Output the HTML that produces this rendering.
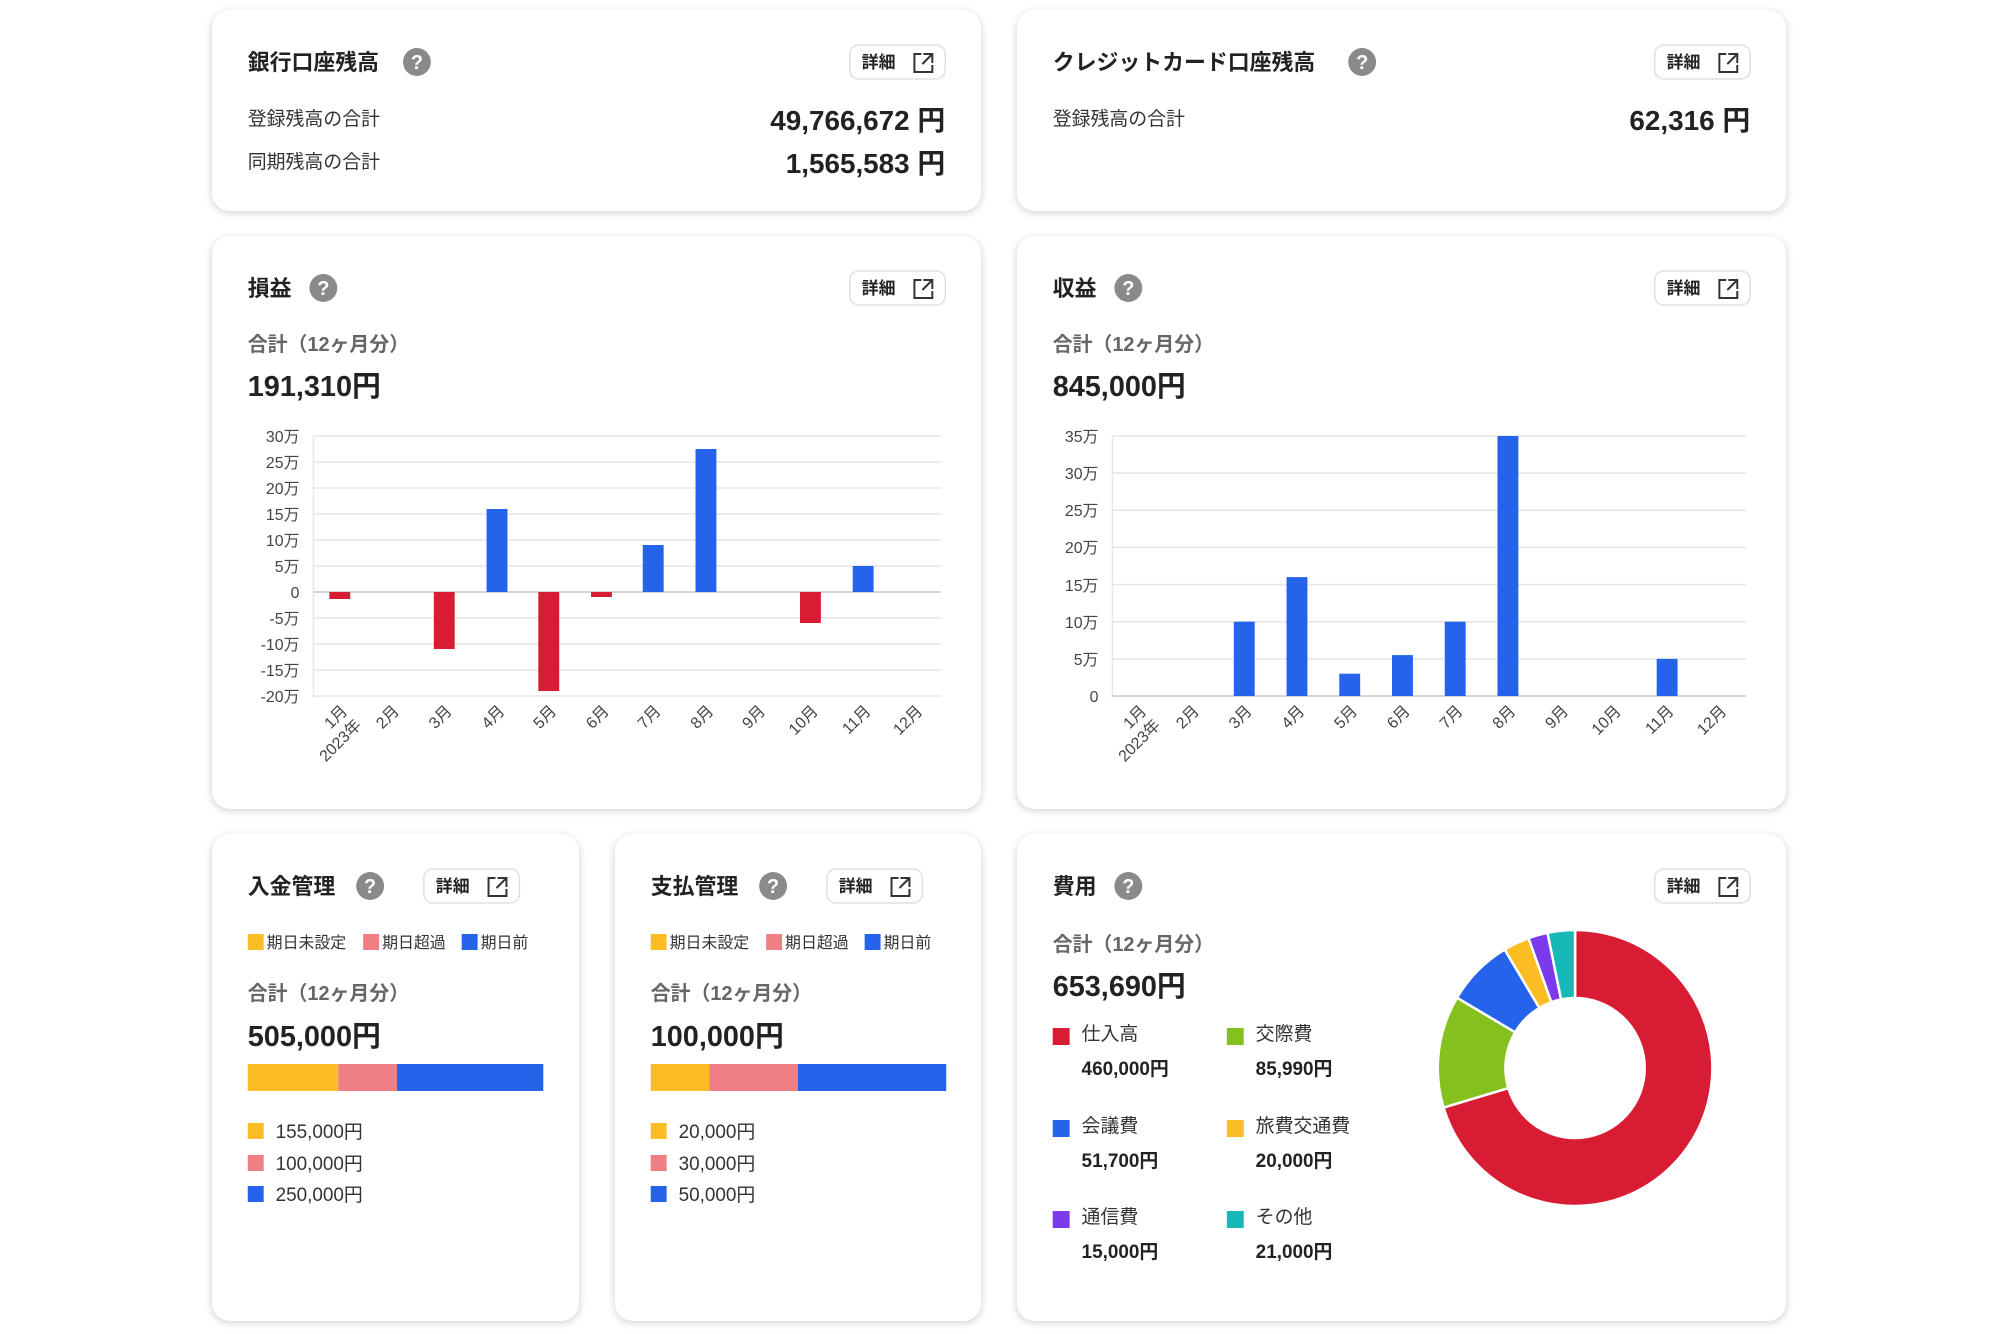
<!DOCTYPE html>
<html><head><meta charset="utf-8"><style>
html,body{margin:0;padding:0;width:2000px;height:1334px;background:#fff;overflow:hidden}
#w{position:absolute;left:0;top:0;width:2000px;height:1334px;transform:scaleX(0.995);transform-origin:0 0}
.c{position:absolute;background:#fff;border-radius:18px;box-shadow:0 2px 8px rgba(0,0,0,0.18)}
svg{position:absolute;left:0;top:0}
text{font-family:"Liberation Sans","Noto Sans CJK JP",sans-serif;fill:#222}
.t{font-size:22px;font-weight:bold}
.lb{font-size:19px;fill:#333}
.v{font-size:28px;font-weight:bold}
.g{font-size:20px;font-weight:bold;fill:#666}
.b{font-size:29px;font-weight:bold}
.ax{font-size:16px;fill:#444}
.sm{font-size:16px;fill:#333}
.li{font-size:19px;fill:#333}
.lv{font-size:19px;font-weight:bold}
</style></head><body><div id="w">
<div class="c" style="left:213px;top:10px;width:773px;height:201px"></div>
<div class="c" style="left:1022px;top:10px;width:773px;height:201px"></div>
<div class="c" style="left:213px;top:236px;width:773px;height:573px"></div>
<div class="c" style="left:1022px;top:236px;width:773px;height:573px"></div>
<div class="c" style="left:213px;top:834px;width:369px;height:487px"></div>
<div class="c" style="left:618px;top:834px;width:368px;height:487px"></div>
<div class="c" style="left:1022px;top:834px;width:773px;height:487px"></div>
<svg width="2000" height="1334" viewBox="0 0 2000 1334">
<defs>
<g id="q"><circle cx="0" cy="0" r="14" fill="#8a8a8a"/><text x="0" y="7" text-anchor="middle" style="font-size:20px;font-weight:bold;fill:#fff">?</text></g>
<g id="btn"><rect x="0" y="0" width="96" height="34" rx="9" fill="#fff" stroke="#e0e0e0" stroke-width="1.5"/><text x="12" y="23" style="font-size:17px;font-weight:bold">詳細</text><path d="M72 9 H65 V27 H83 V20 M74 9 H83 V18 M83 9 L73 19" fill="none" stroke="#333" stroke-width="2"/></g>
</defs>
<!-- card1 -->
<text x="249" y="70" class="t">銀行口座残高</text><use href="#q" x="419" y="62"/>
<use href="#btn" x="854" y="45"/>
<text x="249" y="125" class="lb">登録残高の合計</text>
<text x="950" y="130" class="v" text-anchor="end">49,766,672 円</text>
<text x="249" y="168" class="lb">同期残高の合計</text>
<text x="950" y="173" class="v" text-anchor="end">1,565,583 円</text>
<!-- card2 -->
<text x="1058" y="70" class="t">クレジットカード口座残高</text><use href="#q" x="1369" y="62"/>
<use href="#btn" x="1663" y="45"/>
<text x="1058" y="125" class="lb">登録残高の合計</text>
<text x="1759" y="130" class="v" text-anchor="end">62,316 円</text>
<!-- card3 -->
<text x="249" y="296" class="t">損益</text><use href="#q" x="325" y="288"/>
<use href="#btn" x="854" y="271"/>
<text x="249" y="351" class="g">合計（12ヶ月分）</text>
<text x="249" y="396" class="b">191,310円</text>
<g stroke="#e6e6e6" stroke-width="1.5">
<line x1="315" x2="946" y1="436" y2="436"/><line x1="315" x2="946" y1="462" y2="462"/><line x1="315" x2="946" y1="488" y2="488"/><line x1="315" x2="946" y1="514" y2="514"/><line x1="315" x2="946" y1="540" y2="540"/><line x1="315" x2="946" y1="566" y2="566"/><line x1="315" x2="946" y1="618" y2="618"/><line x1="315" x2="946" y1="644" y2="644"/><line x1="315" x2="946" y1="670" y2="670"/><line x1="315" x2="946" y1="696" y2="696"/><line x1="315" x2="315" y1="436" y2="698"/>
</g>
<line x1="315" x2="946" y1="592" y2="592" stroke="#c8c8c8" stroke-width="1.5"/>
<g>
<text x="301" y="442" class="ax" text-anchor="end">30万</text><text x="301" y="468" class="ax" text-anchor="end">25万</text><text x="301" y="494" class="ax" text-anchor="end">20万</text><text x="301" y="520" class="ax" text-anchor="end">15万</text><text x="301" y="546" class="ax" text-anchor="end">10万</text><text x="301" y="572" class="ax" text-anchor="end">5万</text><text x="301" y="598" class="ax" text-anchor="end">0</text><text x="301" y="624" class="ax" text-anchor="end">-5万</text><text x="301" y="650" class="ax" text-anchor="end">-10万</text><text x="301" y="676" class="ax" text-anchor="end">-15万</text><text x="301" y="702" class="ax" text-anchor="end">-20万</text>
</g>
<g fill="#d81c34">
<rect x="331" y="592" width="21" height="7"/><rect x="436" y="592" width="21" height="57"/><rect x="541" y="592" width="21" height="99"/><rect x="594" y="592" width="21" height="5"/><rect x="804" y="592" width="21" height="31"/>
</g>
<g fill="#2563eb">
<rect x="489" y="509" width="21" height="83"/><rect x="646" y="545" width="21" height="47"/><rect x="699" y="449" width="21" height="143"/><rect x="857" y="566" width="21" height="26"/>
</g>
<g text-anchor="end">
<text class="ax" text-anchor="end" transform="translate(350,712) rotate(-45)">1月</text>
<text class="ax" text-anchor="end" transform="translate(364,726) rotate(-45)">2023年</text>
<text class="ax" text-anchor="end" transform="translate(402,712) rotate(-45)">2月</text>
<text class="ax" text-anchor="end" transform="translate(455,712) rotate(-45)">3月</text>
<text class="ax" text-anchor="end" transform="translate(508,712) rotate(-45)">4月</text>
<text class="ax" text-anchor="end" transform="translate(560,712) rotate(-45)">5月</text>
<text class="ax" text-anchor="end" transform="translate(613,712) rotate(-45)">6月</text>
<text class="ax" text-anchor="end" transform="translate(665,712) rotate(-45)">7月</text>
<text class="ax" text-anchor="end" transform="translate(718,712) rotate(-45)">8月</text>
<text class="ax" text-anchor="end" transform="translate(770,712) rotate(-45)">9月</text>
<text class="ax" text-anchor="end" transform="translate(823,712) rotate(-45)">10月</text>
<text class="ax" text-anchor="end" transform="translate(876,712) rotate(-45)">11月</text>
<text class="ax" text-anchor="end" transform="translate(928,712) rotate(-45)">12月</text>
</g>
<!-- card4 -->
<text x="1058" y="296" class="t">収益</text><use href="#q" x="1134" y="288"/>
<use href="#btn" x="1663" y="271"/>
<text x="1058" y="351" class="g">合計（12ヶ月分）</text>
<text x="1058" y="396" class="b">845,000円</text>
<g stroke="#e6e6e6" stroke-width="1.5">
<line x1="1118" x2="1755" y1="436" y2="436"/><line x1="1118" x2="1755" y1="473.1" y2="473.1"/><line x1="1118" x2="1755" y1="510.3" y2="510.3"/><line x1="1118" x2="1755" y1="547.4" y2="547.4"/><line x1="1118" x2="1755" y1="584.6" y2="584.6"/><line x1="1118" x2="1755" y1="621.7" y2="621.7"/><line x1="1118" x2="1755" y1="658.9" y2="658.9"/><line x1="1118" x2="1118" y1="436" y2="698"/>
</g>
<line x1="1118" x2="1755" y1="696" y2="696" stroke="#c8c8c8" stroke-width="1.5"/>
<g>
<text x="1104" y="442" class="ax" text-anchor="end">35万</text><text x="1104" y="479" class="ax" text-anchor="end">30万</text><text x="1104" y="516" class="ax" text-anchor="end">25万</text><text x="1104" y="553" class="ax" text-anchor="end">20万</text><text x="1104" y="591" class="ax" text-anchor="end">15万</text><text x="1104" y="628" class="ax" text-anchor="end">10万</text><text x="1104" y="665" class="ax" text-anchor="end">5万</text><text x="1104" y="702" class="ax" text-anchor="end">0</text>
</g>
<g fill="#2563eb">
<rect x="1240" y="621.7" width="21" height="74.3"/><rect x="1293" y="577.1" width="21" height="118.9"/><rect x="1346" y="673.7" width="21" height="22.3"/><rect x="1399" y="655.1" width="21" height="40.9"/><rect x="1452" y="621.7" width="21" height="74.3"/><rect x="1505" y="436" width="21" height="260"/><rect x="1665" y="658.9" width="21" height="37.1"/>
</g>
<g>
<text class="ax" text-anchor="end" transform="translate(1153,712) rotate(-45)">1月</text>
<text class="ax" text-anchor="end" transform="translate(1167,726) rotate(-45)">2023年</text>
<text class="ax" text-anchor="end" transform="translate(1206,712) rotate(-45)">2月</text>
<text class="ax" text-anchor="end" transform="translate(1259,712) rotate(-45)">3月</text>
<text class="ax" text-anchor="end" transform="translate(1312,712) rotate(-45)">4月</text>
<text class="ax" text-anchor="end" transform="translate(1365,712) rotate(-45)">5月</text>
<text class="ax" text-anchor="end" transform="translate(1418,712) rotate(-45)">6月</text>
<text class="ax" text-anchor="end" transform="translate(1471,712) rotate(-45)">7月</text>
<text class="ax" text-anchor="end" transform="translate(1524,712) rotate(-45)">8月</text>
<text class="ax" text-anchor="end" transform="translate(1577,712) rotate(-45)">9月</text>
<text class="ax" text-anchor="end" transform="translate(1630,712) rotate(-45)">10月</text>
<text class="ax" text-anchor="end" transform="translate(1683,712) rotate(-45)">11月</text>
<text class="ax" text-anchor="end" transform="translate(1736,712) rotate(-45)">12月</text>
</g>
<!-- card5 -->
<text x="249" y="894" class="t">入金管理</text><use href="#q" x="372" y="886"/>
<use href="#btn" x="426" y="869"/>
<rect x="249" y="934" width="16" height="16" fill="#fbbd23"/><text x="268" y="948" class="sm">期日未設定</text>
<rect x="365" y="934" width="16" height="16" fill="#f07f85"/><text x="384" y="948" class="sm">期日超過</text>
<rect x="464" y="934" width="16" height="16" fill="#2563eb"/><text x="483" y="948" class="sm">期日前</text>
<text x="249" y="1000" class="g">合計（12ヶ月分）</text>
<text x="249" y="1046" class="b">505,000円</text>
<rect x="249" y="1064" width="91" height="27" fill="#fbbd23"/><rect x="340" y="1064" width="59" height="27" fill="#f07f85"/><rect x="399" y="1064" width="147" height="27" fill="#2563eb"/>
<rect x="249" y="1123" width="16" height="16" fill="#fbbd23"/><text x="277" y="1138" class="li">155,000円</text>
<rect x="249" y="1155" width="16" height="16" fill="#f07f85"/><text x="277" y="1170" class="li">100,000円</text>
<rect x="249" y="1186" width="16" height="16" fill="#2563eb"/><text x="277" y="1201" class="li">250,000円</text>
<!-- card6 -->
<text x="654" y="894" class="t">支払管理</text><use href="#q" x="777" y="886"/>
<use href="#btn" x="831" y="869"/>
<rect x="654" y="934" width="16" height="16" fill="#fbbd23"/><text x="673" y="948" class="sm">期日未設定</text>
<rect x="770" y="934" width="16" height="16" fill="#f07f85"/><text x="789" y="948" class="sm">期日超過</text>
<rect x="869" y="934" width="16" height="16" fill="#2563eb"/><text x="888" y="948" class="sm">期日前</text>
<text x="654" y="1000" class="g">合計（12ヶ月分）</text>
<text x="654" y="1046" class="b">100,000円</text>
<rect x="654" y="1064" width="59" height="27" fill="#fbbd23"/><rect x="713" y="1064" width="89" height="27" fill="#f07f85"/><rect x="802" y="1064" width="149" height="27" fill="#2563eb"/>
<rect x="654" y="1123" width="16" height="16" fill="#fbbd23"/><text x="682" y="1138" class="li">20,000円</text>
<rect x="654" y="1155" width="16" height="16" fill="#f07f85"/><text x="682" y="1170" class="li">30,000円</text>
<rect x="654" y="1186" width="16" height="16" fill="#2563eb"/><text x="682" y="1201" class="li">50,000円</text>
<!-- card7 -->
<text x="1058" y="894" class="t">費用</text><use href="#q" x="1134" y="886"/>
<use href="#btn" x="1663" y="869"/>
<text x="1058" y="951" class="g">合計（12ヶ月分）</text>
<text x="1058" y="996" class="b">653,690円</text>
<rect x="1058" y="1028" width="17" height="17" fill="#d81c34"/><text x="1087" y="1040" class="li">仕入高</text><text x="1087" y="1075" class="lv">460,000円</text>
<rect x="1233" y="1028" width="17" height="17" fill="#84c11f"/><text x="1262" y="1040" class="li">交際費</text><text x="1262" y="1075" class="lv">85,990円</text>
<rect x="1058" y="1120" width="17" height="17" fill="#2563eb"/><text x="1087" y="1132" class="li">会議費</text><text x="1087" y="1167" class="lv">51,700円</text>
<rect x="1233" y="1120" width="17" height="17" fill="#fbbd23"/><text x="1262" y="1132" class="li">旅費交通費</text><text x="1262" y="1167" class="lv">20,000円</text>
<rect x="1058" y="1211" width="17" height="17" fill="#7c3aed"/><text x="1087" y="1223" class="li">通信費</text><text x="1087" y="1258" class="lv">15,000円</text>
<rect x="1233" y="1211" width="17" height="17" fill="#17b8b8"/><text x="1262" y="1223" class="li">その他</text><text x="1262" y="1258" class="lv">21,000円</text>
<g stroke="#fff" stroke-width="2.5">
<path d="M1583,930 A138,138 0 1 1 1450.8,1107.6 L1515.9,1088.1 A70,70 0 1 0 1583,998 Z" fill="#d81c34"/>
<path d="M1450.8,1107.6 A138,138 0 0 1 1464.3,997.7 L1522.8,1032.3 A70,70 0 0 0 1515.9,1088.1 Z" fill="#84c11f"/>
<path d="M1464.3,997.7 A138,138 0 0 1 1512.2,949.5 L1547.1,1007.9 A70,70 0 0 0 1522.8,1032.3 Z" fill="#2563eb"/>
<path d="M1512.2,949.5 A138,138 0 0 1 1536.2,938.2 L1559.2,1002.2 A70,70 0 0 0 1547.1,1007.9 Z" fill="#fbbd23"/>
<path d="M1536.2,938.2 A138,138 0 0 1 1555.3,932.8 L1568.9,999.4 A70,70 0 0 0 1559.2,1002.2 Z" fill="#7c3aed"/>
<path d="M1555.3,932.8 A138,138 0 0 1 1583,930 L1583,998 A70,70 0 0 0 1568.9,999.4 Z" fill="#17b8b8"/>
</g>
</svg>
</div></body></html>
